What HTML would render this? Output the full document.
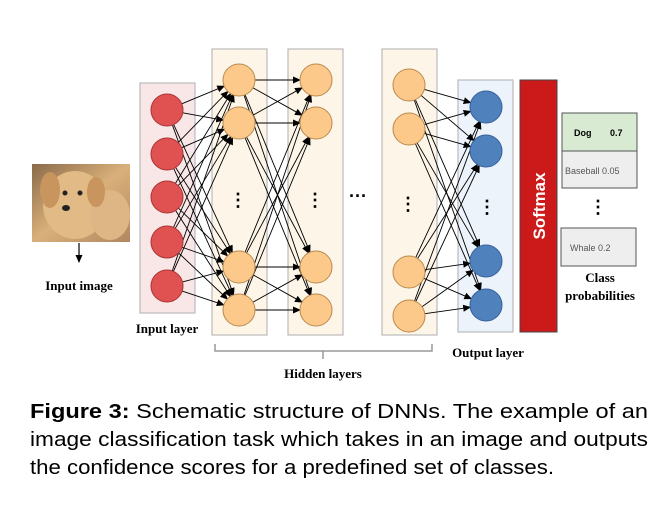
<!DOCTYPE html>
<html><head><meta charset="utf-8"><style>
html,body{margin:0;padding:0;background:#fff;}
svg{display:block;}
</style></head><body>
<svg id="s" width="672" height="515" viewBox="0 0 672 515" xmlns="http://www.w3.org/2000/svg">
<defs>
<marker id="a" markerWidth="8" markerHeight="8" refX="7" refY="4" orient="auto" markerUnits="userSpaceOnUse"><path d="M0,0.5 L8,4 L0,7.5 Z" fill="#000"/></marker>
<linearGradient id="dog" x1="0" y1="0" x2="1" y2="1"><stop offset="0" stop-color="#8a6a4a"/><stop offset="0.5" stop-color="#d9b07a"/><stop offset="1" stop-color="#b08660"/></linearGradient>
</defs>
<rect x="32" y="164" width="98" height="78" fill="url(#dog)"/>
<ellipse cx="75" cy="205" rx="32" ry="34" fill="#e2ba86"/>
<ellipse cx="110" cy="215" rx="20" ry="25" fill="#deb584"/>
<ellipse cx="50" cy="190" rx="10" ry="18" fill="#c8955e"/>
<ellipse cx="96" cy="192" rx="9" ry="15" fill="#c8955e"/>
<circle cx="65" cy="193" r="2.5" fill="#222"/><circle cx="80" cy="193" r="2.5" fill="#222"/>
<ellipse cx="66" cy="208" rx="4" ry="3" fill="#222"/>
<line x1="79" y1="243" x2="79" y2="262" stroke="#000" stroke-width="1.2" marker-end="url(#a)"/>
<text x="79" y="290" font-family="Liberation Serif,serif" font-weight="bold" font-size="13" text-anchor="middle">Input image</text>
<rect x="140" y="83" width="55" height="230" fill="#f9e6e6" stroke="#bbb" stroke-width="1.2"/>
<rect x="212" y="49" width="55" height="286" fill="#fdf6e8" stroke="#bbb" stroke-width="1.2"/>
<rect x="288" y="49" width="55" height="286" fill="#fdf6e8" stroke="#bbb" stroke-width="1.2"/>
<rect x="382" y="49" width="55" height="286" fill="#fdf6e8" stroke="#bbb" stroke-width="1.2"/>
<rect x="458" y="80" width="55" height="252" fill="#edf3fb" stroke="#bbb" stroke-width="1.2"/>
<rect x="520" y="80" width="37" height="252" fill="#cc1a1a" stroke="#444" stroke-width="1"/>
<text transform="translate(545,206) rotate(-90)" font-family="Liberation Sans,sans-serif" font-weight="bold" font-size="17" fill="#fff" text-anchor="middle">Softmax</text>
<g id="lines" stroke="#000" stroke-width="0.9" fill="none"></g>
<g id="nodes"></g>
<g font-family="Liberation Sans,sans-serif" font-weight="bold" font-size="18" text-anchor="middle">
<text x="238" y="206">⋮</text><text x="315" y="206">⋮</text><text x="408" y="210">⋮</text><text x="487" y="213">⋮</text><text x="598" y="213">⋮</text>
<text x="358" y="202">···</text>
</g>
<rect x="562" y="113" width="75" height="38" fill="#d9ead3" stroke="#555" stroke-width="1"/>
<rect x="562" y="151" width="75" height="37" fill="#eee" stroke="#555" stroke-width="1"/>
<rect x="561" y="228" width="75" height="38" fill="#eee" stroke="#555" stroke-width="1"/>
<g font-family="Liberation Sans,sans-serif" font-size="9">
<text x="574" y="136" font-weight="bold">Dog</text><text x="610" y="136" font-weight="bold">0.7</text>
<text x="565" y="174" fill="#555">Baseball 0.05</text>
<text x="570" y="251" fill="#555">Whale 0.2</text>
</g>
<g font-family="Liberation Serif,serif" font-weight="bold" font-size="13" text-anchor="middle">
<text x="600" y="282">Class</text><text x="600" y="300">probabilities</text>
<text x="167" y="333">Input layer</text>
<text x="488" y="357">Output layer</text>
<text x="323" y="378">Hidden layers</text>
</g>
<path d="M215,344 V351 H432 V344 M323,351 V359" stroke="#999" stroke-width="1.5" fill="none"/>
<g font-family="Liberation Sans,sans-serif" font-size="20">
<text x="30" y="418" textLength="618" lengthAdjust="spacingAndGlyphs"><tspan font-weight="bold">Figure 3:</tspan> Schematic structure of DNNs.  The example of an</text>
<text x="30" y="446" textLength="618" lengthAdjust="spacingAndGlyphs">image classification task which takes in an image and outputs</text>
<text x="30" y="474" textLength="524" lengthAdjust="spacingAndGlyphs">the confidence scores for a predefined set of classes.</text>
</g>
</svg>
<script>
var NS="http://www.w3.org/2000/svg";
var L=[{x:167,ys:[110,154,197,242,286],c:"#e05252",s:"#a33"},
{x:239,ys:[80,123,267,310],c:"#fcc98a",s:"#b98a50"},
{x:316,ys:[80,123,267,310],c:"#fcc98a",s:"#b98a50"},
{x:409,ys:[85,129,272,316],c:"#fcc98a",s:"#b98a50"},
{x:486,ys:[107,151,261,305],c:"#4f81bd",s:"#36609a"}];
var r=16,lg=document.getElementById("lines"),ng=document.getElementById("nodes");
[[0,1],[1,2],[3,4]].forEach(function(p){var A=L[p[0]],B=L[p[1]];
A.ys.forEach(function(y1){B.ys.forEach(function(y2){
var dx=B.x-A.x,dy=y2-y1,d=Math.sqrt(dx*dx+dy*dy);
var l=document.createElementNS(NS,"line");
l.setAttribute("x1",A.x+dx/d*r);l.setAttribute("y1",y1+dy/d*r);
l.setAttribute("x2",B.x-dx/d*r);l.setAttribute("y2",y2-dy/d*r);
l.setAttribute("marker-end","url(#a)");lg.appendChild(l);});});});
L.forEach(function(A){A.ys.forEach(function(y){var c=document.createElementNS(NS,"circle");
c.setAttribute("cx",A.x);c.setAttribute("cy",y);c.setAttribute("r",r);c.setAttribute("fill",A.c);c.setAttribute("stroke",A.s);ng.appendChild(c);});});
</script>
</body></html>
